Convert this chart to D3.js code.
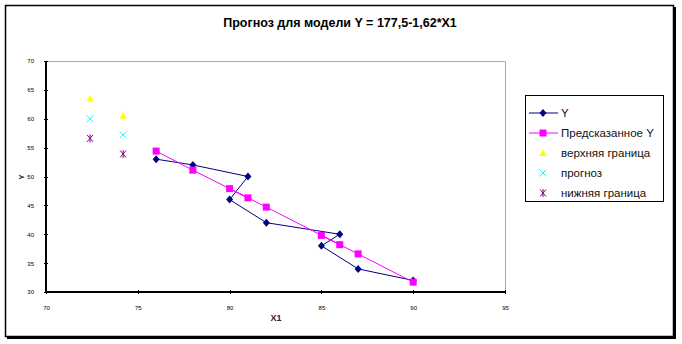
<!DOCTYPE html>
<html>
<head>
<meta charset="utf-8">
<style>
body { margin: 0; background: #fff; }
svg { font-family: Arial, "Liberation Sans", sans-serif; }
.axis path, .axis line { fill: none; stroke: #000; shape-rendering: crispEdges; }
.axis text { font-size: 6px; }
</style>
</head>
<body>
<script src="https://d3js.org/d3.v7.min.js"></script>
<script>
// observed values
var x1 = [76, 78, 81, 80, 82, 86, 85, 87, 90];
var yObs = [53, 52, 50, 46, 42, 40, 38, 34, 32];
var yPred = [54.4, 51.1, 46.3, 47.9, 44.7, 38.2, 39.8, 36.6, 31.7];
// forecast
var xForecast = [72.4, 74.2];
var yUpper = [63.5, 60.5];
var yForecast = [60.0, 57.2];
var yLower = [56.6, 53.9];
var xTicks = [70, 75, 80, 85, 90, 95];
var yTicks = [30, 35, 40, 45, 50, 55, 60, 65, 70];
var legendLabels = ["Y", "Предсказанное Y", "верхняя граница", "прогноз", "нижняя граница"];

var W = 682, H = 344;
var svg = d3.select("body").append("svg").attr("width", W).attr("height", H);

// frame with shadow
svg.append("rect").attr("x", 7).attr("y", 7).attr("width", 669).attr("height", 332).attr("fill", "#000");
svg.append("rect").attr("x", 5.5).attr("y", 5.5).attr("width", 668).attr("height", 331)
    .attr("fill", "#fff").attr("stroke", "#000").attr("stroke-width", 1.5);

var pLeft = 46, pRight = 505, pTop = 61, pBottom = 292;
var x = d3.scaleLinear().domain([70, 95]).range([pLeft, pRight]);
var y = d3.scaleLinear().domain([30, 70]).range([pBottom, pTop]);

// plot area border (grey top/right)
svg.append("path")
    .attr("d", "M" + pLeft + "," + (pTop + 0.5) + "H" + (pRight + 0.5) + "V" + pBottom)
    .attr("fill", "none").attr("stroke", "#aaa");

svg.append("g").attr("class", "axis")
    .attr("transform", "translate(0," + pBottom + ")")
    .call(d3.axisBottom(x).tickValues(xTicks).tickSize(4).tickPadding(10))
    .call(g => g.selectAll(".tick line").attr("y1", -2).attr("y2", 2))
    .call(g => g.select(".domain").attr("d", "M" + pLeft + ",0H" + pRight).attr("stroke-width", 1.5));

svg.append("g").attr("class", "axis")
    .attr("transform", "translate(" + pLeft + ",0)")
    .call(d3.axisLeft(y).tickValues(yTicks).tickSize(4).tickPadding(8))
    .call(g => g.selectAll(".tick line").attr("x1", -2).attr("x2", 2))
    .call(g => g.select(".domain").attr("d", "M0," + pBottom + "V" + pTop).attr("stroke-width", 1.5));

svg.append("text").attr("x", 340).attr("y", 27).attr("text-anchor", "middle")
    .attr("font-size", "12.5px").attr("font-weight", "bold")
    .text("Прогноз для модели Y = 177,5-1,62*X1");
svg.append("text").attr("x", 276).attr("y", 321).attr("text-anchor", "middle")
    .attr("font-size", "9px").attr("font-weight", "bold").attr("fill", "#222").text("X1");
svg.append("text").attr("transform", "translate(24,177) rotate(-90)").attr("text-anchor", "middle")
    .attr("font-size", "8px").attr("font-weight", "bold").attr("fill", "#222").text("Y");

var navy = "#000080", pink = "#ff00ff", yellow = "#ffff00", cyan = "#00ffff", purple = "#800080";
var line = d3.line().x(d => x(d[0])).y(d => y(d[1]));
var obs = x1.map((d, i) => [d, yObs[i]]);
var pred = x1.map((d, i) => [d, yPred[i]]);

var diamond = "M0,-4L3.5,0L0,4L-3.5,0Z";
function drawMarker(g, kind) {
    if (kind === "diamond") g.append("path").attr("d", diamond).attr("fill", navy);
    else if (kind === "square") g.append("rect").attr("x", -3.5).attr("y", -3.5).attr("width", 7).attr("height", 7).attr("fill", pink);
    else if (kind === "tri") g.append("path").attr("d", "M0,-4L3.5,3L-3.5,3Z").attr("fill", yellow);
    else if (kind === "x") g.append("path").attr("d", "M-3.5,-3.5L3.5,3.5M-3.5,3.5L3.5,-3.5").attr("stroke", cyan).attr("stroke-width", 1);
    else if (kind === "star") g.append("path").attr("d", "M-3,-3.5L3,3.5M-3,3.5L3,-3.5M0,-4V4").attr("stroke", purple).attr("stroke-width", 1);
}
function series(pts, kind) {
    pts.forEach(function(p) {
        var g = svg.append("g").attr("transform", "translate(" + x(p[0]) + "," + y(p[1]) + ")");
        drawMarker(g, kind);
    });
}

svg.append("path").datum(obs).attr("d", line).attr("fill", "none").attr("stroke", navy).attr("stroke-width", 1);
series(obs, "diamond");
svg.append("path").datum(pred).attr("d", line).attr("fill", "none").attr("stroke", pink).attr("stroke-width", 1);
series(pred, "square");
series(xForecast.map((d, i) => [d, yUpper[i]]), "tri");
series(xForecast.map((d, i) => [d, yForecast[i]]), "x");
series(xForecast.map((d, i) => [d, yLower[i]]), "star");

// legend
var lg = svg.append("g");
lg.append("rect").attr("x", 525.5).attr("y", 95.5).attr("width", 138).attr("height", 106)
    .attr("fill", "#fff").attr("stroke", "#000");
var kinds = ["diamond", "square", "tri", "x", "star"];
var colors = [navy, pink, null, null, null];
legendLabels.forEach(function(t, i) {
    var cy = 113 + i * 20;
    if (colors[i]) lg.append("line").attr("x1", 529).attr("x2", 558).attr("y1", cy).attr("y2", cy).attr("stroke", colors[i]);
    var g = lg.append("g").attr("transform", "translate(543," + cy + ")");
    drawMarker(g, kinds[i]);
    lg.append("text").attr("x", 561).attr("y", cy + 4).attr("font-size", "11.5px").attr("fill", "#111").text(t);
});
</script>
</body>
</html>
